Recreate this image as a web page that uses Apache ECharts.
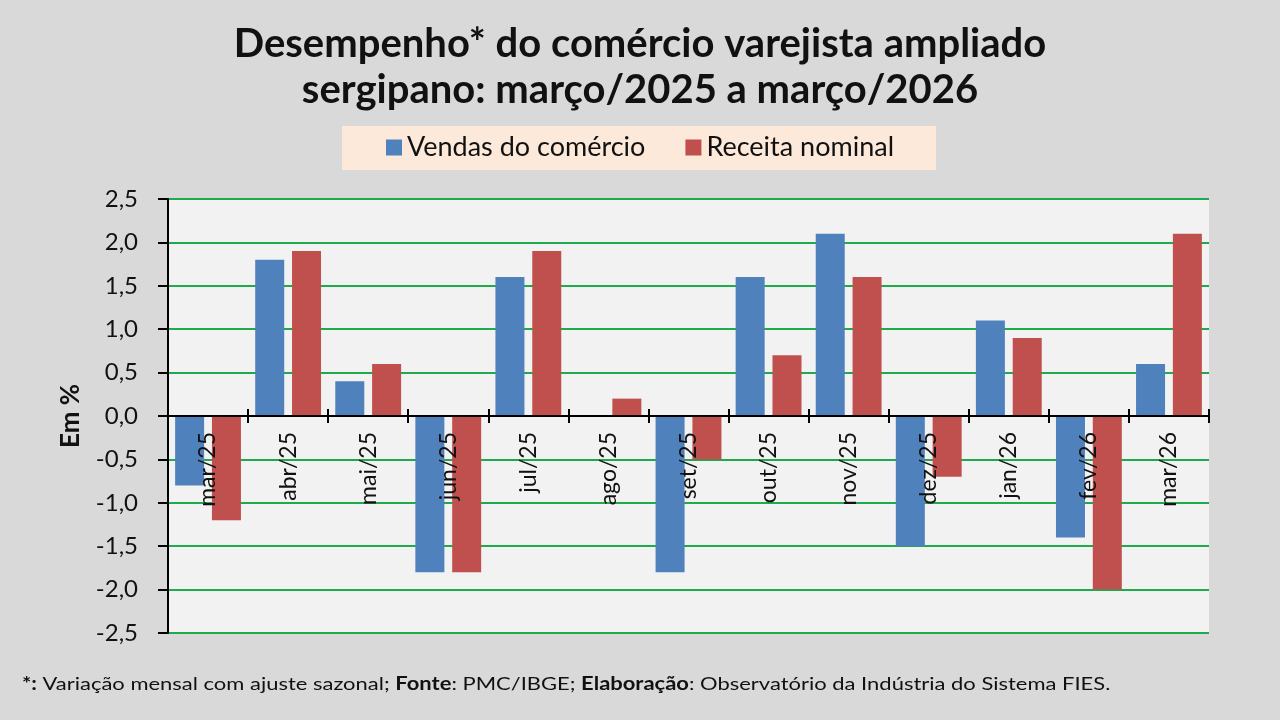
<!DOCTYPE html>
<html>
<head>
    <meta charset="utf-8">
    <title>Comércio varejista ampliado - Sergipe</title>
    <script type="text/javascript" src="https://cdn.jsdelivr.net/npm/echarts@6/dist/echarts.min.js"></script>
    <style>
        html, body { margin: 0; padding: 0; background: #d9d9d9; }
    </style>
</head>
<body>
    <div id="main" style="width: 1280px;height:720px;"></div>

    <script type="text/javascript">
        // dados (variação mensal, %)
        var meses = ['mar/25','abr/25','mai/25','jun/25','jul/25','ago/25','set/25','out/25','nov/25','dez/25','jan/26','fev/26','mar/26'];
        var vendas = [-0.8, 1.8, 0.4, -1.8, 1.6, 0.0, -1.8, 1.6, 2.1, -1.5, 1.1, -1.4, 0.6];
        var receita = [-1.2, 1.9, 0.6, -1.8, 1.9, 0.2, -0.5, 0.7, 1.6, -0.7, 0.9, -2.0, 2.1];
        var yTicks = { min: -2.5, max: 2.5, interval: 0.5 };

        var fonte = 'Lato, "Open Sans", sans-serif';
        var gridTop = 199, gridBottom = 87;
        // distância do eixo zero até a base da área do gráfico
        var plotH = 720 - gridTop - gridBottom;
        var zeroOffset = -plotH * (0 - yTicks.min) / (yTicks.max - yTicks.min);

        var myChart = echarts.init(document.getElementById('main'));

        var option = {
            backgroundColor: '#d9d9d9',
            animation: false,
            textStyle: { fontFamily: fonte, color: '#000' },
            title: {
                text: 'Desempenho* do comércio varejista ampliado\nsergipano: março/2025 a março/2026',
                left: 'center',
                top: 16,
                textStyle: { fontSize: 40, fontWeight: 'bold', lineHeight: 46, color: '#111', fontFamily: fonte }
            },
            graphic: [{
                type: 'text',
                left: 22,
                top: 675,
                scaleX: 1.22,
                style: {
                    text: '{b|*:} Variação mensal com ajuste sazonal; {b|Fonte}: PMC/IBGE; {b|Elaboração}: Observatório da Indústria do Sistema FIES.',
                    fontSize: 18,
                    fontFamily: fonte,
                    fill: '#111',
                    rich: { b: { fontSize: 18, fontWeight: 'bold', fill: '#111', fontFamily: fonte } }
                }
            }],
            legend: {
                data: ['Vendas do comércio', 'Receita nominal'],
                left: 'center',
                top: 126,
                padding: [8, 42, 9, 44],
                backgroundColor: '#fce9da',
                itemWidth: 16,
                itemHeight: 16,
                itemGap: 40,
                icon: 'rect',
                textStyle: { fontSize: 27, color: '#111', fontFamily: fonte }
            },
            grid: {
                left: 168,
                right: 71,
                top: gridTop,
                bottom: gridBottom,
                show: true,
                backgroundColor: '#f2f2f2',
                borderWidth: 0,
                outerBoundsMode: 'none'
            },
            xAxis: [{
                type: 'category',
                data: meses,
                position: 'bottom',
                offset: zeroOffset,
                z: 5,
                axisLine: { onZero: false, lineStyle: { color: '#000', width: 2 } },
                axisTick: { show: true, length: 7, lineStyle: { color: '#000', width: 2 } },
                axisLabel: { rotate: 90, fontSize: 23, color: '#111', margin: 16, fontFamily: fonte },
                splitLine: { show: false }
            }, {
                type: 'category',
                data: meses,
                position: 'bottom',
                offset: zeroOffset,
                z: 5,
                axisLine: { onZero: false, show: false },
                axisTick: { show: true, inside: true, length: 7, lineStyle: { color: '#000', width: 2 } },
                axisLabel: { show: false },
                splitLine: { show: false }
            }],
            yAxis: {
                type: 'value',
                min: yTicks.min,
                max: yTicks.max,
                interval: yTicks.interval,
                name: 'Em %',
                nameLocation: 'middle',
                nameGap: 84,
                nameTextStyle: { fontSize: 26, fontWeight: 'bold', color: '#111', fontFamily: fonte },
                axisLine: { show: true, lineStyle: { color: '#000', width: 2 } },
                axisTick: { show: true, length: 10, lineStyle: { color: '#000', width: 2 } },
                axisLabel: {
                    fontSize: 24,
                    color: '#111',
                    margin: 30,
                    fontFamily: fonte,
                    formatter: function (v) { return v.toFixed(1).replace('.', ','); }
                },
                splitLine: { show: true, lineStyle: { color: '#1faa4e', width: 2 } }
            },
            series: [{
                name: 'Vendas do comércio',
                type: 'bar',
                data: vendas,
                barWidth: 29,
                barGap: '27%',
                itemStyle: { color: '#4f81bd' }
            }, {
                name: 'Receita nominal',
                type: 'bar',
                data: receita,
                barWidth: 29,
                itemStyle: { color: '#c0504d' }
            }]
        };

        myChart.setOption(option);
    </script>
</body>
</html>
